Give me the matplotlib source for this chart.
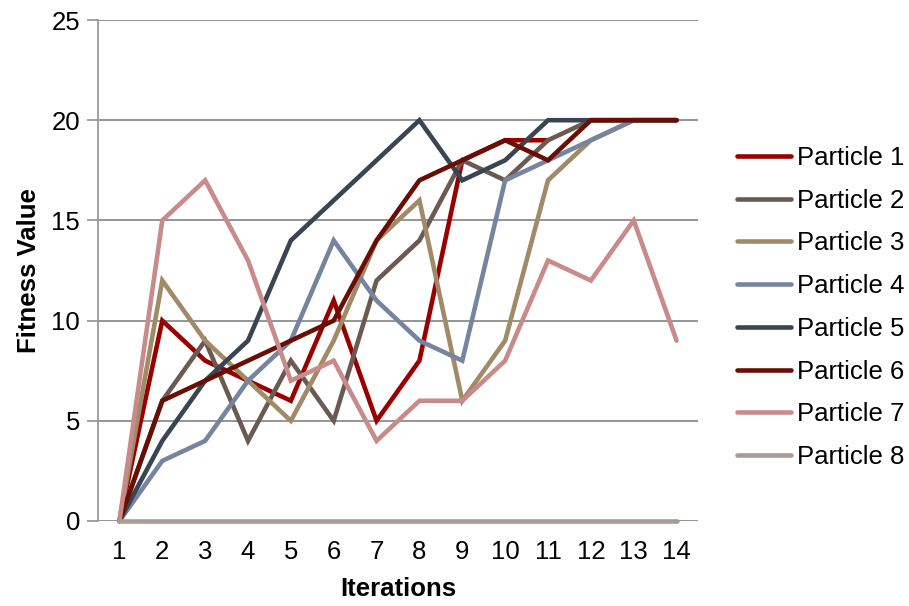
import numpy as np
import matplotlib
matplotlib.use("Agg")
import matplotlib.pyplot as plt

plt.rcParams['font.family'] = ['Liberation Sans', 'DejaVu Sans']

iterations = list(range(1, 15))
nan = np.nan
p1 = [0, 10, 8, 7, 6, 11, 5, 8, 18, 19, 19, nan, nan, nan]
p2 = [0, 6, 9, 4, 8, 5, 12, 14, 18, 17, 19, 20, 20, 20]
p3 = [0, 12, 9, 7, 5, 9, 14, 16, 6, 9, 17, 19, 20, 20]
p4 = [0, 3, 4, 7, 9, 14, 11, 9, 8, 17, 18, 19, 20, 20]
p5 = [0, 4, 7, 9, 14, 16, 18, 20, 17, 18, 20, 20, 20, 20]
p6 = [0, 6, 7, 8, 9, 10, 14, 17, 18, 19, 18, 20, 20, 20]
p7 = [0, 15, 17, 13, 7, 8, 4, 6, 6, 8, 13, 12, 15, 9]
p8 = [0, 0, 0, 0, 0, 0, 0, 0, 0, 0, 0, 0, 0, 0]

series = [p1, p2, p3, p4, p5, p6, p7, p8]
labels = ["Particle %d" % i for i in range(1, 9)]
colors = ["#9B0000", "#6B5A52", "#A08A68", "#7585A0",
          "#3A4553", "#6A0E04", "#C98A8A", "#A79C96"]
yticks = [0, 5, 10, 15, 20, 25]

fig = plt.figure(figsize=(9.09, 6.06), dpi=100)
ax = fig.add_axes([98 / 909, 85 / 606, 600 / 909, 501 / 606])

for vals, lab, c in zip(series, labels, colors):
    ax.plot(iterations, vals, color=c, lw=3.3, label=lab,
            solid_capstyle='round', solid_joinstyle='miter', clip_on=False, zorder=3)

ax.set_xlim(0.5, 14.5)
ax.set_ylim(0, 25)
ax.set_yticks(yticks)
ax.set_xticks(iterations)
ax.set_xticklabels([str(i) for i in iterations])
ax.yaxis.grid(True, color='#8c8c8c', lw=1.3)
ax.set_axisbelow(True)
for s in ['top', 'right', 'bottom']:
    ax.spines[s].set_visible(False)
ax.spines['left'].set_color('#9a9a9a')
ax.spines['left'].set_linewidth(1.3)
ax.tick_params(axis='y', length=8, color='#9a9a9a', width=1.3, labelsize=18.5, pad=5)
ax.tick_params(axis='x', length=0, labelsize=18.5, pad=14)
ax.set_xlabel("Iterations", fontsize=18.5, fontweight='bold', labelpad=9)
ax.set_ylabel("Fitness Value", fontsize=18.5, fontweight='bold', labelpad=7)

leg = fig.legend(loc='center left', bbox_to_anchor=(737 / 909, 1 - 307.5 / 606),
                 frameon=False, fontsize=18.5, handlelength=2.1, handletextpad=0.25,
                 labelspacing=0.73, borderpad=0, borderaxespad=0)
for h in leg.get_lines():
    h.set_linewidth(3.3)

fig.savefig("out.png", dpi=100)
